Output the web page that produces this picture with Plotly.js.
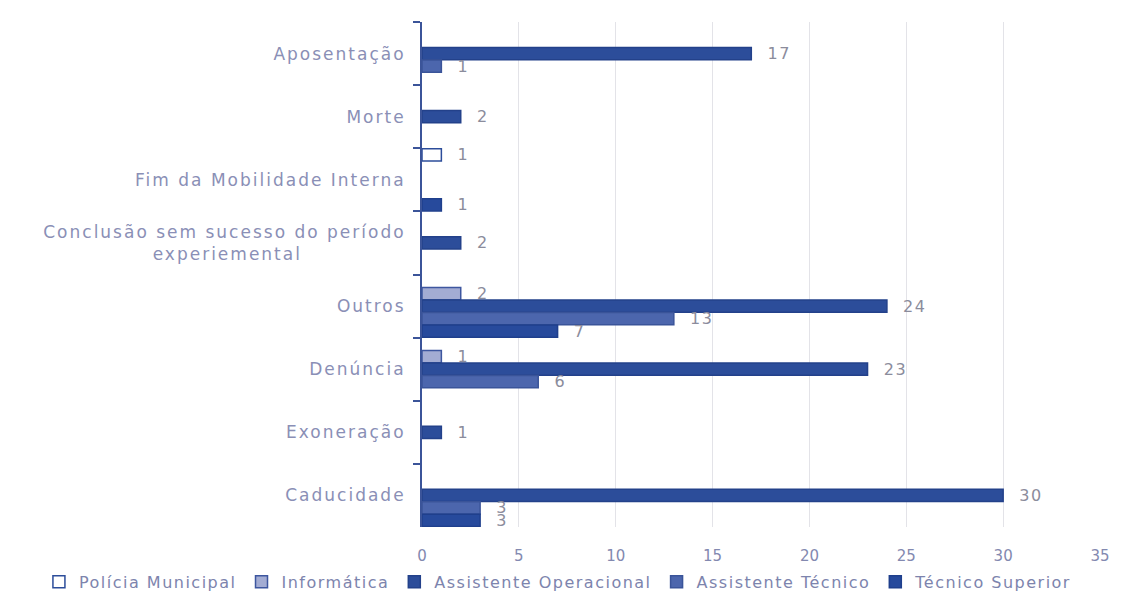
<!DOCTYPE html>
<html>
<head>
<meta charset="utf-8">
<script src="https://cdn.plot.ly/plotly-3.0.1.min.js"></script>
<style>
html,body{margin:0;padding:0;background:#fff;}
#chart{width:1121px;height:596px;}
#chart .ytick text{letter-spacing:2px;}
.legendtext{letter-spacing:1.5px;}
.bartext{letter-spacing:1.5px;}
</style>
</head>
<body>
<div id="chart"></div>
<script>
// Categories, top to bottom
const categories = [
  "Aposentação",
  "Morte",
  "Fim da Mobilidade Interna",
  "Conclusão sem sucesso do período<br>experiemental\u00a0\u00a0\u00a0\u00a0\u00a0\u00a0\u00a0\u00a0\u00a0\u00a0\u00a0\u00a0\u00a0\u00a0",
  "Outros",
  "Denúncia",
  "Exoneração",
  "Caducidade"
];
const seriesNames = ["Polícia Municipal", "Informática", "Assistente Operacional", "Assistente Técnico", "Técnico Superior"];
const policiaMunicipal      = [null, null, 1,    null, null, null, null, null];
const informatica           = [null, null, null, null, 2,    1,    null, null];
const assistenteOperacional = [17,   2,    null, 2,    24,   23,   1,    30];
const assistenteTecnico     = [1,    null, null, null, 13,   6,    null, 3];
const tecnicoSuperior       = [null, null, 1,    null, 7,    null, null, 3];
const xTicks = [0, 5, 10, 15, 20, 25, 30, 35];

const seriesValues = [policiaMunicipal, informatica, assistenteOperacional, assistenteTecnico, tecnicoSuperior];
const fills = ["#ffffff", "#a3acd3", "#2c4d9a", "#4c66ad", "#274a9c"];
const lines = ["#2c4d9a", "#3d569f", "#23418a", "#3a5499", "#1f3f8c"];
const FONT = "DejaVu Sans, Verdana, sans-serif";

const traces = seriesValues.map((vals, i) => ({
  type: "bar",
  orientation: "h",
  name: seriesNames[i],
  y: categories,
  x: vals,
  text: vals.map(v => v == null ? "" : "\u00a0\u00a0" + String(v)),
  textposition: "outside",
  constraintext: "none",
  cliponaxis: false,
  outsidetextfont: {family: FONT, size: 16, color: "#8b8c9c"},
  textfont: {family: FONT, size: 16, color: "#8b8c9c"},
  marker: {color: fills[i], line: {color: lines[i], width: 1.5}},
  hoverinfo: "x+name"
}));

const layout = {
  width: 1121,
  height: 596,
  paper_bgcolor: "#ffffff",
  plot_bgcolor: "#ffffff",
  margin: {l: 422, r: 21, t: 22, b: 69, autoexpand: false},
  barmode: "group",
  bargap: 0.01,
  bargroupgap: 0.02,
  showlegend: true,
  legend: {
    orientation: "h",
    x: -0.565, xanchor: "left",
    y: -0.075, yanchor: "top",
    font: {family: FONT, size: 16, color: "#7d84ad"},
    itemwidth: 30,
    tracegroupgap: 0
  },
  xaxis: {
    range: [0, 35],
    tickvals: xTicks,
    ticktext: xTicks.map(String),
    showgrid: true,
    gridcolor: "#e3e3e8",
    gridwidth: 1,
    zeroline: false,
    showline: false,
    ticks: "",
    ticklabelstandoff: 18,
    tickfont: {family: FONT, size: 15, color: "#8389b0"}
  },
  yaxis: {
    type: "category",
    autorange: "reversed",
    showgrid: false,
    zeroline: false,
    showline: true,
    linecolor: "#3b5499",
    linewidth: 2,
    ticks: "outside",
    tickson: "boundaries",
    ticklen: 7,
    tickwidth: 2,
    tickcolor: "#3b5499",
    ticklabelstandoff: 11,
    tickfont: {family: FONT, size: 17, color: "#8a8fb6"}
  },
  font: {family: FONT}
};

Plotly.newPlot("chart", traces, layout, {displayModeBar: false, staticPlot: true});
</script>
</body>
</html>
